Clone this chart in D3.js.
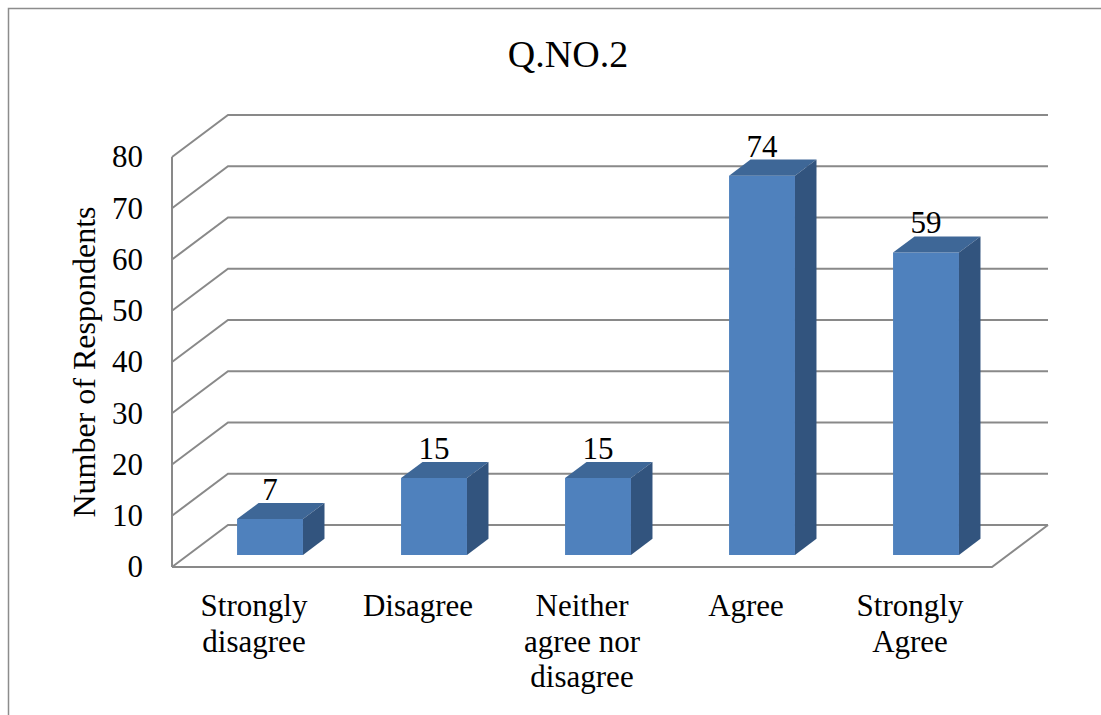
<!DOCTYPE html>
<html>
<head>
<meta charset="utf-8">
<script src="https://cdn.jsdelivr.net/npm/d3@7/dist/d3.min.js"></script>
<style>
  html, body { margin: 0; padding: 0; background: #fff; }
  svg { display: block; }
</style>
</head>
<body>
<svg id="chart" width="1101" height="715"></svg>
<script>
// Survey responses for Q.NO.2
const categories = ["Strongly disagree", "Disagree", "Neither agree nor disagree", "Agree", "Strongly Agree"];
const categoryLines = [["Strongly", "disagree"], ["Disagree"], ["Neither", "agree nor", "disagree"], ["Agree"], ["Strongly", "Agree"]];
const respondents = [7, 15, 15, 74, 59];
const yTicks = [0, 10, 20, 30, 40, 50, 60, 70, 80];
const chartTitle = "Q.NO.2";
const yTitle = "Number of Respondents";

const FONT = "'Liberation Serif', 'Times New Roman', 'Liberation Sans', sans-serif";

const svg = d3.select("#chart");

// Frame geometry of the 3-D plot box
const frontLeft = 172, frontBottom = 567;
const plotW = 820, plotH = 410;
const depthX = 56, depthY = 42;      // offset from front plane to back wall
const barZ0 = 0.286, barZ1 = 0.67;   // bar depth within the box

const y = d3.scaleLinear().domain([0, 80]).range([0, plotH]);
const x = d3.scaleBand().domain(categories).range([0, plotW])
  .paddingInner(0.598).paddingOuter(0.299);

// project (horizontal offset, value, depth fraction) to screen
const P = (px, v, z) => [frontLeft + px + z * depthX, frontBottom - y(v) - z * depthY];

const addText = (sel) => sel.append("text").style("font-family", FONT).attr("fill", "#000");

// outer chart border
svg.append("path")
  .attr("d", "M8.5,715 L8.5,8.5 L1101,8.5")
  .attr("fill", "none").attr("stroke", "#8c8c8c").attr("stroke-width", 1.5);

const grid = svg.append("g")
  .attr("fill", "none").attr("stroke", "#898989").attr("stroke-width", 2);

// back wall gridlines + side wall diagonals
yTicks.forEach(t => {
  grid.append("path").attr("d", d3.line()([P(0, t, 0), P(0, t, 1), P(plotW, t, 1)]));
});
// side wall front edge
grid.append("path").attr("d", d3.line()([P(0, 0, 0), P(0, 80, 0)]));
// floor front and right edges
grid.append("path").attr("d", d3.line()([P(0, 0, 0), P(plotW, 0, 0), P(plotW, 0, 1)]));

// 3-D bars: front, top and side faces
const bars = svg.append("g");
categories.forEach((cat, i) => {
  const v = respondents[i];
  const x0 = x(cat), x1 = x(cat) + x.bandwidth();
  const g = bars.append("g");
  g.append("path")
    .attr("d", d3.line()([P(x0, 0, barZ0), P(x1, 0, barZ0), P(x1, v, barZ0), P(x0, v, barZ0)]) + "Z")
    .attr("fill", "#4f81bd");
  g.append("path")
    .attr("d", d3.line()([P(x0, v, barZ0), P(x1, v, barZ0), P(x1, v, barZ1), P(x0, v, barZ1)]) + "Z")
    .attr("fill", "#3e6797");
  g.append("path")
    .attr("d", d3.line()([P(x1, 0, barZ0), P(x1, 0, barZ1), P(x1, v, barZ1), P(x1, v, barZ0)]) + "Z")
    .attr("fill", "#32547e");
  // value label above the bar
  addText(g)
    .attr("x", P(x0 + x.bandwidth() / 2, v, barZ0)[0])
    .attr("y", P(0, v, barZ1)[1] - 3)
    .attr("text-anchor", "middle")
    .attr("font-size", 31)
    .text(v);
});

// y axis labels on the front plane
const yAxisScale = d3.scaleLinear().domain([0, 80]).range([frontBottom, frontBottom - plotH]);
const yAxis = svg.append("g")
  .attr("transform", `translate(${frontLeft},0)`)
  .call(d3.axisLeft(yAxisScale).tickValues(yTicks).tickSize(0).tickPadding(29));
yAxis.attr("font-family", null);
yAxis.select(".domain").remove();
yAxis.selectAll("text")
  .style("font-family", FONT)
  .attr("font-size", 31).attr("fill", "#000");

// category labels, wrapped
const labels = svg.append("g").attr("text-anchor", "middle").attr("font-size", 31);
categories.forEach((cat, i) => {
  const cx = frontLeft + x(cat) + x.bandwidth() / 2;
  const t = addText(labels).attr("x", cx).attr("y", 616);
  categoryLines[i].forEach((line, j) => {
    t.append("tspan").attr("x", cx).attr("y", 616 + j * 35.5).text(line);
  });
});

// titles
addText(svg)
  .attr("x", 568).attr("y", 67)
  .attr("text-anchor", "middle").attr("font-size", 38)
  .text(chartTitle);

addText(svg)
  .attr("transform", "translate(95,362) rotate(-90)")
  .attr("text-anchor", "middle").attr("font-size", 32)
  .text(yTitle);
</script>
</body>
</html>
